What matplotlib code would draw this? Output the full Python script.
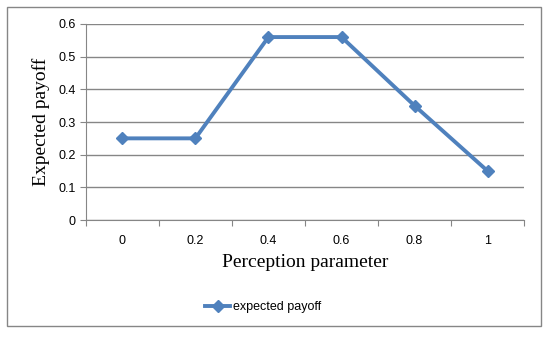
import numpy as np
import matplotlib.pyplot as plt
from matplotlib.patches import Rectangle

# perception parameter categories and expected payoff
categories = ['0', '0.2', '0.4', '0.6', '0.8', '1']
payoff = [0.25, 0.25, 0.56, 0.56, 0.35, 0.15]
y_ticks = [0, 0.1, 0.2, 0.3, 0.4, 0.5, 0.6]

blue = '#4f81bd'
grey = '#868686'

fig = plt.figure(figsize=(5.5, 3.38), dpi=100)
ax = fig.add_axes([0.156, 0.349, 0.797, 0.580])

x = np.arange(len(categories))
line, = ax.plot(x, payoff, color=blue, lw=2.8, marker='D', markersize=6,
                markeredgecolor=blue, label='expected payoff', zorder=3)

ax.set_xlim(-0.5, len(categories) - 0.5)
ax.set_ylim(0, 0.6)
ax.set_yticks(y_ticks)
ax.set_yticklabels([f'{v:g}' for v in y_ticks])
ax.yaxis.grid(True, color=grey, lw=1)
ax.set_axisbelow(True)

# Excel-style category axis: ticks between categories, labels at centres
ax.set_xticks(np.arange(-0.5, len(categories)))
ax.set_xticklabels([])
ax.set_xticks(x, minor=True)
ax.set_xticklabels(categories, minor=True)
ax.tick_params(axis='x', which='minor', length=0, pad=11)
ax.tick_params(axis='both', which='major', length=4, color=grey)
ax.tick_params(axis='both', which='both', labelsize=9, labelcolor='black')
for lab in ax.get_xticklabels(minor=True) + ax.get_yticklabels():
    lab.set_family('Liberation Sans')

for s in ['top', 'right']:
    ax.spines[s].set_visible(False)
for s in ['left', 'bottom']:
    ax.spines[s].set_color(grey)

ax.set_xlabel('Perception parameter', family='Liberation Serif', fontsize=14, labelpad=5)
ax.set_ylabel('Expected payoff', family='Liberation Serif', fontsize=14, labelpad=6)

fig.legend(handles=[line], loc='center', bbox_to_anchor=(0.478, 0.092), frameon=False,
           prop={'family': 'Liberation Sans', 'size': 9}, handlelength=2.0, handletextpad=0.2)

# chart border
fig.patches.append(Rectangle((7 / 550, 1 - 326 / 338), 534 / 550, 319 / 338,
                             transform=fig.transFigure, fill=False, ec=grey, lw=1))

fig.savefig('out.png', dpi=100)
